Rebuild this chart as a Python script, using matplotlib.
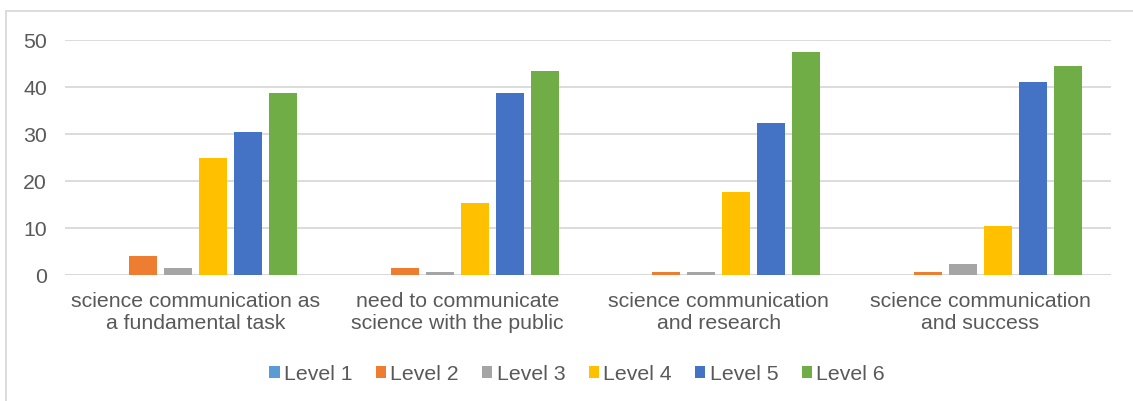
import numpy as np
import matplotlib.pyplot as plt
import matplotlib.patches as mpatches

plt.rcParams['font.family'] = ['Liberation Sans', 'DejaVu Sans']

# Data
categories = ['science communication as\na fundamental task',
              'need to communicate\nscience with the public',
              'science communication\nand research',
              'science communication\nand success']
levels = ['Level 1', 'Level 2', 'Level 3', 'Level 4', 'Level 5', 'Level 6']
level1 = [0, 0, 0, 0]
level2 = [4.0, 1.5, 0.6, 0.6]
level3 = [1.5, 0.6, 0.6, 2.3]
level4 = [24.9, 15.3, 17.6, 10.4]
level5 = [30.5, 38.7, 32.3, 41.0]
level6 = [38.7, 43.4, 47.5, 44.4]
series = [level1, level2, level3, level4, level5, level6]
colors = ['#5B9BD5', '#ED7D31', '#A5A5A5', '#FFC000', '#4472C4', '#70AD47']

txt = '#595959'
grid = '#D9D9D9'
fs = 15.3

fig = plt.figure(figsize=(11.33, 4.01), dpi=100)
ax = fig.add_axes([0.0574, 0.3142, 0.9232, 0.586])

# outer chart frame
frame = mpatches.Rectangle((6/1133, -0.1), 1.2, 1 - 11/401 + 0.1,
                           transform=fig.transFigure, fill=False,
                           edgecolor=grid, linewidth=1.3)
fig.patches.append(frame)

x = np.arange(len(categories))
step = 0.134
w = 0.107
for i, (vals, c, lab) in enumerate(zip(series, colors, levels)):
    ax.bar(x + (i - 2.5) * step, vals, w, color=c, label=lab, zorder=3)

ax.set_xlim(-0.5, 3.5)
ax.set_ylim(0, 50)
ax.set_yticks(range(0, 51, 10))
ax.yaxis.grid(True, color=grid, linewidth=1.3, zorder=0)
ax.set_axisbelow(True)
for s in ax.spines.values():
    s.set_visible(False)
ax.axhline(0, color=grid, linewidth=1.3, zorder=2)
ax.set_xticks(x)
ax.set_xticklabels(categories, fontsize=fs, color=txt, linespacing=1.25)
ax.tick_params(axis='both', length=0, labelsize=fs, labelcolor=txt)
ax.tick_params(axis='x', pad=12)
ax.tick_params(axis='y', pad=13)

fig.legend(loc='center', bbox_to_anchor=(577/1133, 1 - 374/401), ncol=6,
           frameon=False, fontsize=fs, labelcolor=txt, handlelength=0.48,
           handleheight=0.48, handletextpad=0.2, columnspacing=1.1)

fig.savefig('out.png', dpi=100)
